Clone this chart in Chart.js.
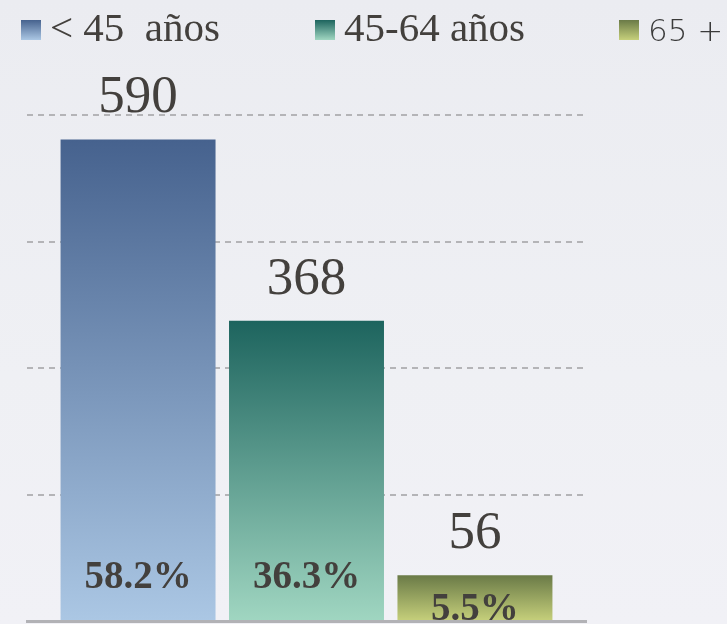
<!DOCTYPE html>
<html>
<head>
<meta charset="utf-8">
<script src="https://cdn.jsdelivr.net/npm/chart.js@4/dist/chart.umd.min.js"></script>
<style>
  html, body { margin: 0; padding: 0; overflow: hidden; }
  body { background: linear-gradient(180deg, #ebecf1 0%, #eff0f4 60%, #f1f1f6 100%); }
  .chartContainer { position: relative; width: 727px; height: 624px; }
</style>
</head>
<body>
<div class="chartContainer"><canvas id="chart"></canvas></div>
<script>
//chart data
const groups = [""];
const seriesNames = ["< 45  años", "45-64 años", "65 +"];
const counts = [590, 368, 56];
const shares = ["58.2%", "36.3%", "5.5%"];
const yMax = 620;
const yStep = 155;

//gradient colours for each series (top, bottom)
const topColors = ["#46628e", "#1d645e", "#6a7a47"];
const bottomColors = ["#abc7e4", "#a0d6c1", "#c6d07b"];
const textColor = "#43403d";

//makes a vertical gradient for a bar, from its top down to the axis
function barGradient(context) {
  const chart = context.chart;
  const area = chart.chartArea;
  const i = context.datasetIndex;
  if (!area || context.raw === undefined) return topColors[i];
  const top = chart.scales.y.getPixelForValue(context.raw);
  const g = chart.ctx.createLinearGradient(0, top, 0, area.bottom);
  g.addColorStop(0, topColors[i]);
  g.addColorStop(1, bottomColors[i]);
  return g;
}

//draws the legend row at the top (custom, so the spacing matches)
const legendRow = {
  id: "legendRow",
  afterDraw(chart) {
    const ctx = chart.ctx;
    const boxX = [21, 315, 619];
    const fonts = ["41px 'Liberation Serif'", "41px 'Liberation Serif'", "200 31px 'DejaVu Sans'"];
    ctx.save();
    chart.data.datasets.forEach((ds, i) => {
      const g = ctx.createLinearGradient(0, 20, 0, 40);
      g.addColorStop(0, topColors[i]);
      g.addColorStop(1, bottomColors[i]);
      ctx.fillStyle = g;
      ctx.fillRect(boxX[i], 20, 20, 20);
      ctx.fillStyle = i == 2 ? "#3a3a3a" : textColor;
      ctx.font = fonts[i];
      ctx.textAlign = "left";
      ctx.textBaseline = "alphabetic";
      ctx.fillText(ds.label, boxX[i] + 29, 41);
    });
    ctx.restore();
  },
};

//draws the count above each bar and the share near its foot
const barLabels = {
  id: "barLabels",
  afterDatasetsDraw(chart) {
    const ctx = chart.ctx;
    const bottom = chart.chartArea.bottom;
    ctx.save();
    ctx.textAlign = "center";
    ctx.textBaseline = "alphabetic";
    ctx.fillStyle = textColor;
    chart.data.datasets.forEach((ds, i) => {
      const bar = chart.getDatasetMeta(i).data[0];
      ctx.font = "53px 'Liberation Serif'";
      ctx.fillText(String(ds.data[0]), bar.x, bar.y - 27);
      ctx.font = "bold 39px 'Liberation Serif'";
      ctx.fillText(shares[i], bar.x, Math.max(bottom - 33, bar.y + 45));
    });
    ctx.restore();
  },
};

const datasets = seriesNames.map((name, i) => ({
  label: name,
  data: [counts[i]],
  backgroundColor: barGradient,
  borderWidth: 0,
  categoryPercentage: 0.904,
  barPercentage: 0.92,
}));

const myChart = new Chart(document.getElementById("chart"), {
  type: "bar",
  data: { labels: groups, datasets: datasets },
  options: {
    responsive: true,
    maintainAspectRatio: false,
    animation: false,
    layout: { padding: { left: 27, right: 141, top: 115, bottom: 3 } },
    plugins: {
      legend: { display: false },
      tooltip: { enabled: false },
    },
    scales: {
      x: {
        z: 1,
        ticks: { display: false },
        grid: { display: false, drawTicks: false },
        border: { display: true, color: "#b2b2b6", width: 3 },
      },
      y: {
        min: 0,
        max: yMax,
        ticks: { display: false, stepSize: yStep },
        grid: {
          drawTicks: false,
          lineWidth: 2,
          color: (c) => (c.tick && c.tick.value === 0 ? "rgba(0,0,0,0)" : "#b4b4b7"),
        },
        border: { display: false, dash: [6, 5] },
      },
    },
  },
  plugins: [legendRow, barLabels],
});
</script>
</body>
</html>
